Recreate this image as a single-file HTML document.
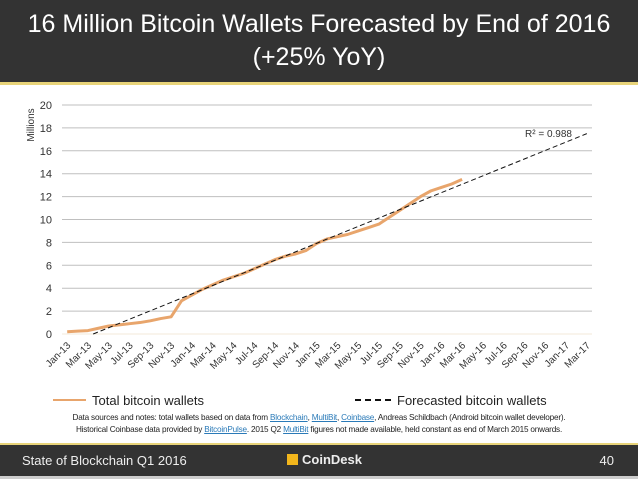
<!DOCTYPE html>
<html><head><meta charset="utf-8"><style>
body{margin:0;width:638px;height:479px;overflow:hidden;background:#fff;font-family:"Liberation Sans",Arial,sans-serif;position:relative}
.hdr{position:absolute;left:0;top:0;width:638px;height:82px;background:#333;color:#fff;text-align:center;font-size:25px;line-height:33px;padding-top:8px;box-sizing:border-box}
.hl{position:absolute;left:0;top:82px;width:638px;height:3px;background:#e8d47a}
.ftl{position:absolute;left:0;top:443px;width:638px;height:2px;background:#e8d47a}
.ftr{position:absolute;left:0;top:445px;width:638px;height:31px;background:#333;color:#eee;font-size:13px}
.fb{position:absolute;left:0;top:476px;width:638px;height:3px;background:#ccc}
.notes{position:absolute;left:0;top:412px;width:638px;text-align:center;font-size:8.2px;line-height:12px;color:#222;letter-spacing:-0.2px}
.notes a{color:#2a7ab8;text-decoration:underline}
</style></head><body>
<div class="hdr">16 Million Bitcoin Wallets Forecasted by End of 2016<br>(+25% YoY)</div>
<div class="hl"></div>
<svg id="chart" width="638" height="410" style="position:absolute;left:0;top:0"></svg>
<div class="notes">Data sources and notes: total wallets based on data from <a>Blockchain</a>, <a>MultiBit</a>, <a>Coinbase</a>, Andreas Schildbach (Android bitcoin wallet developer).<br>Historical Coinbase data provided by <a>BitcoinPulse</a>. 2015 Q2 <a>MultiBit</a> figures not made available, held constant as end of March 2015 onwards.</div>
<div class="ftl"></div>
<div class="ftr">
<span style="position:absolute;left:22px;top:8px">State of Blockchain Q1 2016</span>
<span style="position:absolute;left:287px;top:7px;font-weight:bold;font-size:13px"><span style="display:inline-block;width:11px;height:11px;background:#f2b61c;vertical-align:-1px;margin-right:4px"></span>CoinDesk</span>
<span style="position:absolute;right:24px;top:8px">40</span>
</div>
<div class="fb"></div>
<script>
const months=["Jan","Feb","Mar","Apr","May","Jun","Jul","Aug","Sep","Oct","Nov","Dec"];
const categories=[];for(let y=13;y<=17;y++)for(let m=0;m<12;m++){if(y===17&&m>2)break;categories.push(months[m]+"-"+y);}
const yTicks=[0,2,4,6,8,10,12,14,16,18,20];
const wallets=[0.2,0.25,0.3,0.5,0.7,0.8,0.9,1.0,1.15,1.35,1.5,2.9,3.4,3.9,4.3,4.7,5.0,5.3,5.7,6.1,6.5,6.8,7.0,7.3,7.9,8.3,8.5,8.7,9.0,9.3,9.6,10.2,10.8,11.4,12.0,12.5,12.8,13.1,13.5];
const trendIdx=[2.5,50];
const trendVal=[0,17.5];
const ns="http://www.w3.org/2000/svg";const svg=document.getElementById('chart');
const x0=62,x1=592,yb=334,yt=105;
const bw=(x1-x0)/categories.length;
const X=i=>x0+bw*(i+0.5);
const Y=v=>yb-(v/20)*(yb-yt);
function mk(t,a){const e=document.createElementNS(ns,t);for(const k in a)e.setAttribute(k,a[k]);svg.appendChild(e);return e;}
yTicks.forEach(v=>{
 const l=mk('line',{x1:x0,x2:x1,y1:Y(v),y2:Y(v),stroke:v===0?'#f3ead8':'#bfbfbf','stroke-width':1});
 
 
 const t=mk('text',{x:52,y:Y(v)+4,'text-anchor':'end','font-size':11,fill:'#333'});t.textContent=v;
 
 
});
const yt2=mk('text',{x:0,y:0,transform:'translate(34,125) rotate(-90)','text-anchor':'middle','font-size':10,fill:'#333'});yt2.textContent='Millions';


categories.forEach((c,i)=>{if(i%2)return;
 const t=mk('text',{x:0,y:0,transform:`translate(${X(i)+4},${yb+12}) rotate(-45)`,'text-anchor':'end','font-size':10,fill:'#333'});t.textContent=c;
 
 
});
const p=mk('polyline',{points:wallets.map((v,i)=>X(i)+','+Y(v)).join(' '),fill:'none',stroke:'#e8a56c','stroke-width':3,'stroke-linejoin':'round'});


const tl=mk('line',{x1:X(trendIdx[0]),y1:Y(trendVal[0]),x2:X(trendIdx[1]),y2:Y(trendVal[1]),stroke:'#111','stroke-width':1,'stroke-dasharray':'5,3'});


const r2=mk('text',{x:525,y:137,'font-size':10,fill:'#333'});r2.textContent='R² = 0.988';


const l1=mk('line',{x1:53,x2:86,y1:400,y2:400,stroke:'#e8a56c','stroke-width':2});


const t1=mk('text',{x:92,y:405,'font-size':13,fill:'#222'});t1.textContent='Total bitcoin wallets';


const l2=mk('line',{x1:355,x2:395,y1:400,y2:400,stroke:'#111','stroke-width':2,'stroke-dasharray':'6,4'});


const t2=mk('text',{x:397,y:405,'font-size':13,fill:'#222'});t2.textContent='Forecasted bitcoin wallets';


</script>
</body></html>
